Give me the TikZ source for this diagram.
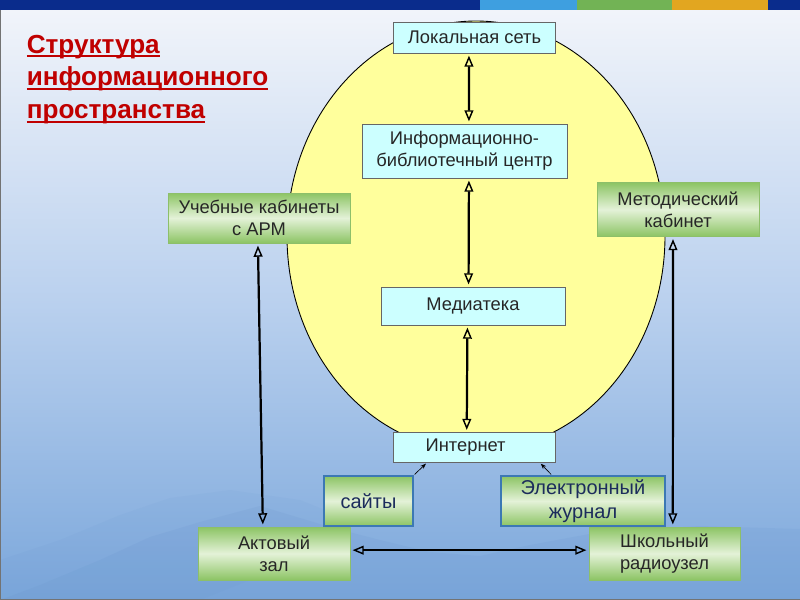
\documentclass[tikz,border=0pt]{standalone}
\usepackage{fontspec}
\setmainfont{Liberation Sans}
\usetikzlibrary{arrows.meta}

\newcommand{\titleuline}[1]{\setbox0\hbox{#1}\rlap{\rule[-4pt]{\wd0}{2pt}}\box0}

\definecolor{slidenavy}{HTML}{0A2C8C}
\definecolor{barblue}{HTML}{3E9FE0}
\definecolor{bargreen}{HTML}{72B355}
\definecolor{barorange}{HTML}{E2A620}
\definecolor{skytop}{HTML}{F1F4FA}
\definecolor{skymid}{HTML}{B9D0EE}
\definecolor{skybottom}{HTML}{7BA7DB}
\definecolor{hillblue}{HTML}{5F8CC8}
\definecolor{ovalfill}{HTML}{FFFF9C}
\definecolor{blockfill}{HTML}{CCFFFF}
\definecolor{roomdark}{HTML}{8CC464}
\definecolor{roomlight}{HTML}{E4F2D8}
\definecolor{roomedge}{HTML}{8DBF6A}
\definecolor{linkedge}{HTML}{3C78B4}
\definecolor{linktext}{HTML}{1C2C5C}
\definecolor{titlered}{HTML}{C00000}

\tikzset{block/.style={draw=black!60, fill=blockfill, line width=0.7pt, align=center, inner sep=0pt, text=black!85, font=\fontsize{16.5}{19.5}\selectfont}}
\tikzset{room/.style={draw=roomedge, top color=roomdark, bottom color=roomdark, middle color=roomlight, line width=0.7pt, align=center, inner sep=0pt, text=black!85, font=\fontsize{16.5}{19.5}\selectfont}}
\tikzset{link/.style={room, draw=linkedge, line width=1.4pt, text=linktext, font=\fontsize{18}{21}\selectfont}}
\tikzset{both/.style={{Triangle[open, length=10pt, width=8pt, line width=1.3pt]}-{Triangle[open, length=10pt, width=8pt, line width=1.3pt]}, shorten <=2pt, shorten >=2pt}}

\begin{document}
\begin{tikzpicture}[x=0.9pt, y=-0.9pt, line width=2pt]

	\useasboundingbox (0,0) rectangle (800,600);

	% slide background
	\fill[top color=skytop, bottom color=skybottom, middle color=skymid] (0,10) rectangle (800,600);
	\fill[hillblue, opacity=0.12] (0,600) -- (40,585) -- (100,560) -- (150,537) -- (200,522) -- (260,506) -- (330,527) -- (380,540) -- (430,552) -- (480,556) -- (530,545) -- (600,532) -- (700,526) -- (800,529) -- (800,600) -- cycle;
	\fill[hillblue, opacity=0.07] (0,600) -- (0,560) -- (60,540) -- (120,515) -- (170,498) -- (230,490) -- (300,500) -- (350,520) -- (300,560) -- (200,600) -- cycle;
	\fill[slidenavy] (0,0) rectangle (800,10);
	\fill[barblue] (480,0) rectangle (577,10);
	\fill[bargreen] (577,0) rectangle (672,10);
	\fill[barorange] (672,0) rectangle (768,10);
	\draw[black!55, line width=1pt] (0,10) -- (0,600) -- (800,600);

	\node[anchor=north west, align=left, text=titlered, font=\fontsize{23.5}{29.5}\selectfont\bfseries] (title) at (22,30)
		{\titleuline{Структура}\\ \titleuline{информационного}\\ \titleuline{пространства}};

	\fill[ovalfill, draw=black, line width=0.8pt] (476,236) ellipse [x radius=189, y radius=215];

	\node[block, minimum width=145.8pt, minimum height=27.9pt] (local-net) at (474.5,37.5) {Локальная сеть};
	\node[block, minimum width=184.5pt, minimum height=48.6pt] (ibc) at (464.5,151) {Информационно-\\библиотечный центр};
	\node[block, minimum width=165.6pt, minimum height=34.2pt] (mediateka) at (473,306) {Медиатека};
	\node[block, minimum width=145.8pt, minimum height=27pt] (internet) at (474.5,447.5) {Интернет\hspace*{16pt}};

	\node[room, minimum width=163.8pt, minimum height=45pt] (classrooms) at (259,218) {Учебные кабинеты\\с АРМ};
	\node[room, minimum width=145.8pt, minimum height=48.6pt] (method-room) at (678,209.5) {Методический\\кабинет};
	\node[link, minimum width=80.1pt, minimum height=45pt] (sites) at (368.5,501) {сайты};
	\node[link, minimum width=147.6pt, minimum height=45pt] (e-journal) at (583,501) {Электронный\\журнал};
	\node[room, minimum width=136.8pt, minimum height=47.7pt] (hall) at (274,553.5) {Актовый\\зал};
	\node[room, minimum width=135.9pt, minimum height=47.7pt] (radio) at (664.5,553.5) {Школьный\\радиоузел};

	\draw[both] ([xshift=-5pt]local-net.south) -- ([xshift=4pt]ibc.north);
	\draw[both] ([xshift=4pt]ibc.south) -- ([xshift=-4pt]mediateka.north);
	\draw[both] ([xshift=-5pt]mediateka.south) -- ([xshift=-7pt]internet.north);
	\draw[both] ([xshift=-1pt]classrooms.south) -- ([xshift=-10pt]hall.north);
	\draw[both] ([xshift=-4.5pt]method-room.south) -- ([xshift=7.5pt]radio.north);
	\draw[both] ([yshift=3pt]hall.east) -- ([yshift=3pt]radio.west);

	\draw[-{Stealth[length=5pt]}, line width=0.6pt, shorten <=1pt, shorten >=1pt] (sites.north east) -- ([xshift=-43pt]internet.south);
	\draw[-{Stealth[length=5pt]}, line width=0.6pt, shorten <=1pt, shorten >=1pt] ([xshift=-28pt]e-journal.north) -- ([xshift=59pt]internet.south);
\end{tikzpicture}
\end{document}
